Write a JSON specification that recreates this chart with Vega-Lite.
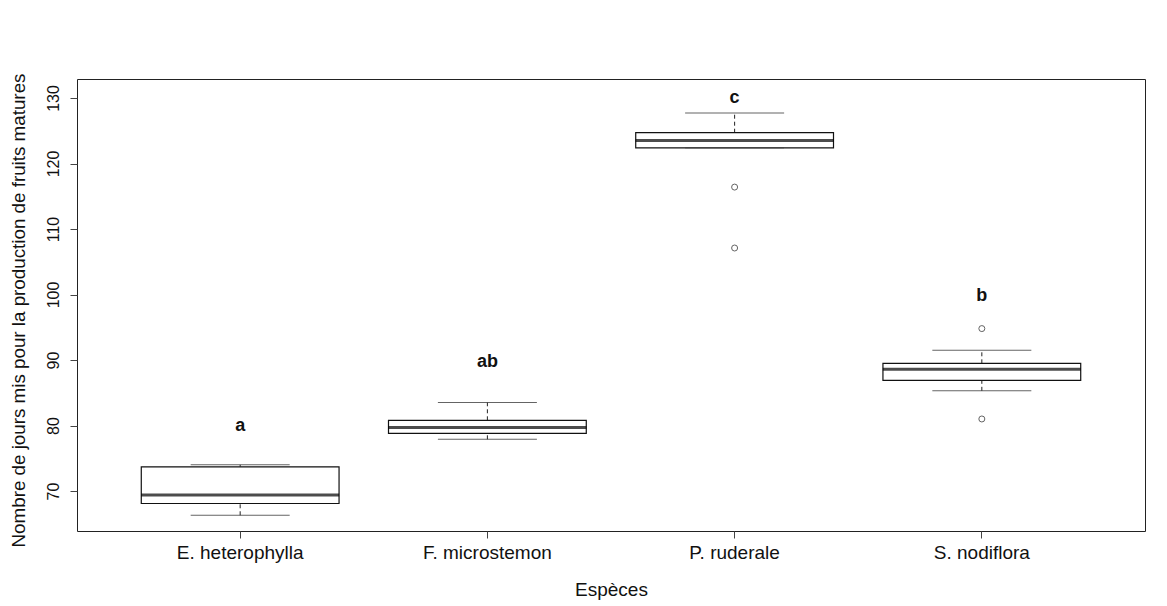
{
  "$schema": "https://vega.github.io/schema/vega-lite/v6.json",
  "width": 1068,
  "height": 452,
  "autosize": {"type": "none"},
  "padding": {"left": 77, "top": 79, "right": 22, "bottom": 75},
  "background": "white",
  "config": {
    "font": "Liberation Sans",
    "view": {"stroke": "#222", "strokeWidth": 1}
  },
  "datasets": {
    "boxes": [
      {"espece": "E. heterophylla", "lo": 66.3, "q1": 68.1, "med": 69.4, "q3": 73.7, "hi": 74.0, "lettre": "a", "ylettre": 79.9},
      {"espece": "F. microstemon", "lo": 77.9, "q1": 78.8, "med": 79.7, "q3": 80.8, "hi": 83.5, "lettre": "ab", "ylettre": 89.7},
      {"espece": "P. ruderale", "lo": 122.4, "q1": 122.4, "med": 123.5, "q3": 124.7, "hi": 127.7, "lettre": "c", "ylettre": 130.0},
      {"espece": "S. nodiflora", "lo": 85.3, "q1": 86.9, "med": 88.6, "q3": 89.5, "hi": 91.5, "lettre": "b", "ylettre": 99.8}
    ],
    "outliers": [
      {"espece": "P. ruderale", "valeur": 116.4},
      {"espece": "P. ruderale", "valeur": 107.1},
      {"espece": "S. nodiflora", "valeur": 94.8},
      {"espece": "S. nodiflora", "valeur": 81.0}
    ]
  },
  "encoding": {
    "x": {
      "field": "espece",
      "type": "nominal",
      "sort": ["E. heterophylla", "F. microstemon", "P. ruderale", "S. nodiflora"],
      "scale": {"type": "band", "paddingInner": 0.2, "paddingOuter": 0.26},
      "axis": {
        "title": "Espèces",
        "titleFont": "Liberation Sans",
        "titleFontSize": 19,
        "titleFontWeight": "normal",
        "titleColor": "#111",
        "titleBaseline": "middle",
        "titleY": 58,
        "labelAngle": 0,
        "labelFontSize": 19,
        "labelColor": "#111",
        "labelPadding": 5,
        "labelBaseline": "top",
        "tickSize": 7,
        "tickColor": "#444",
        "domain": false,
        "grid": false
      }
    }
  },
  "layer": [
    {
      "data": {"name": "boxes"},
      "mark": {"type": "rule", "color": "#222", "strokeWidth": 1, "strokeDash": [4, 3]},
      "encoding": {
        "y": {
          "field": "q3",
          "type": "quantitative",
          "scale": {"domain": [63.9, 132.9], "nice": false, "zero": false},
          "axis": {
            "title": "Nombre de jours mis pour la production de fruits matures",
            "titleFont": "Liberation Sans",
            "titleFontSize": 18.8,
            "titleFontWeight": "normal",
            "titleColor": "#111",
            "titleAngle": -90,
            "titleAlign": "center",
            "titleBaseline": "middle",
            "titleX": -59,
            "titleY": 231,
            "values": [70, 80, 90, 100, 110, 120, 130],
            "labelAngle": -90,
            "labelAlign": "center",
            "labelBaseline": "bottom",
            "labelFontSize": 16,
            "labelColor": "#111",
            "labelPadding": 9,
            "tickSize": 7,
            "tickColor": "#444",
            "domain": false,
            "grid": false
          }
        },
        "y2": {"field": "hi"}
      }
    },
    {
      "data": {"name": "boxes"},
      "mark": {"type": "rule", "color": "#222", "strokeWidth": 1, "strokeDash": [4, 3]},
      "encoding": {
        "y": {"field": "lo", "type": "quantitative"},
        "y2": {"field": "q1"}
      }
    },
    {
      "data": {"name": "boxes"},
      "mark": {"type": "tick", "color": "#222", "size": 99, "thickness": 1},
      "encoding": {"y": {"field": "hi", "type": "quantitative"}}
    },
    {
      "data": {"name": "boxes"},
      "mark": {"type": "tick", "color": "#222", "size": 99, "thickness": 1},
      "encoding": {"y": {"field": "lo", "type": "quantitative"}}
    },
    {
      "data": {"name": "boxes"},
      "mark": {"type": "bar", "fill": "white", "stroke": "#111", "strokeWidth": 1.2},
      "encoding": {
        "y": {"field": "q1", "type": "quantitative"},
        "y2": {"field": "q3"}
      }
    },
    {
      "data": {"name": "boxes"},
      "mark": {"type": "tick", "color": "black", "size": 198, "thickness": 3},
      "encoding": {"y": {"field": "med", "type": "quantitative"}}
    },
    {
      "data": {"name": "outliers"},
      "mark": {"type": "point", "shape": "circle", "filled": false, "color": "#222", "strokeWidth": 1, "size": 36},
      "encoding": {"y": {"field": "valeur", "type": "quantitative"}}
    },
    {
      "data": {"name": "boxes"},
      "mark": {"type": "text", "font": "Liberation Sans", "fontSize": 18, "fontWeight": "bold", "color": "#111", "baseline": "middle", "align": "center"},
      "encoding": {
        "y": {"field": "ylettre", "type": "quantitative"},
        "text": {"field": "lettre"}
      }
    }
  ]
}
